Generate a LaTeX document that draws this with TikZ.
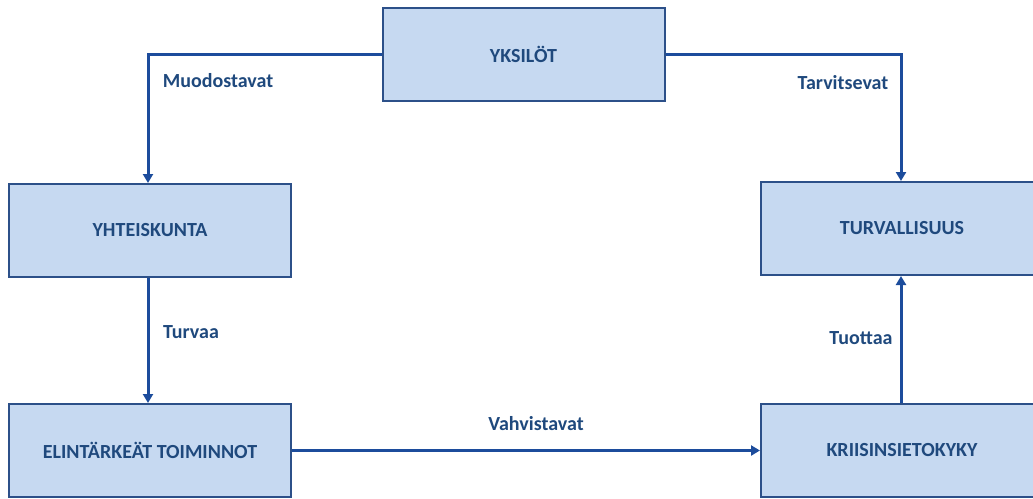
\documentclass[tikz,border=0pt]{standalone}
\usepackage{fontspec}
\setmainfont{Carlito}
\usetikzlibrary{arrows.meta}
\definecolor{boxfill}{HTML}{C6D9F1}
\definecolor{boxline}{HTML}{2C5089}
\definecolor{arrowc}{HTML}{1C4C9C}
\definecolor{txt}{HTML}{1F497D}
\begin{document}
\begin{tikzpicture}[x=1pt,y=-1pt,
  box/.style={draw=boxline,fill=boxfill,line width=2pt,minimum width=282pt,minimum height=93pt,
    font=\fontsize{20}{24}\selectfont\bfseries,text=txt,inner sep=0pt},
  conn/.style={draw=arrowc,line width=3pt,-{Triangle[length=9pt,width=10pt]}},
  lab/.style={font=\fontsize{20}{24}\selectfont\bfseries,text=txt,inner sep=0pt}]
\useasboundingbox (0,0) rectangle (1033,498);
\clip (0,0) rectangle (1033,498);
\node[box] (yks) at (523.5,54.5) {YKSILÖT};
\node[box] (yht) at (150,230.5) {YHTEISKUNTA};
\node[box] (tur) at (902,228.5) {TURVALLISUUS};
\node[box] (eli) at (150,450.5) {ELINTÄRKEÄT TOIMINNOT};
\node[box] (kri) at (902,450.5) {KRIISINSIETOKYKY};
\draw[conn] (yks.west) -| (yht.north -| 148,0);
\draw[conn] (yks.east) -| (tur.north -| 901,0);
\draw[conn] (yht.south -| 148,0) -- (eli.north -| 148,0);
\draw[conn] (eli.east) -- (kri.west);
\draw[conn] (kri.north -| 901,0) -- (tur.south -| 901,0);
\node[lab] (l1) at (218,81) {Muodostavat};
\node[lab] (l2) at (843,83) {Tarvitsevat};
\node[lab] (l3) at (191,332) {Turvaa};
\node[lab] (l4) at (536,424) {Vahvistavat};
\node[lab] (l5) at (861,338) {Tuottaa};
\end{tikzpicture}
\end{document}
